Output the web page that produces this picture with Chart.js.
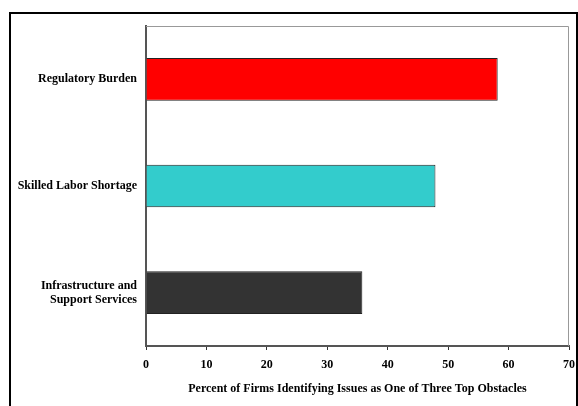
<!DOCTYPE html>
<html>
<head>
<meta charset="utf-8">
<script src="https://cdn.jsdelivr.net/npm/chart.js@4"></script>
<style>
  html,body{margin:0;padding:0;background:#fff;}
  #wrap{position:relative;width:578px;height:406px;overflow:hidden;}
  #frame{position:absolute;left:9px;top:12px;width:565px;height:420px;border:2px solid #000;}
  canvas{position:absolute;left:0;top:0;}
</style>
</head>
<body>
<div id="wrap">
  <div id="frame"></div>
  <canvas id="c" width="578" height="406"></canvas>
</div>
<script>
const categories = ['Regulatory Burden', 'Skilled Labor Shortage', ['Infrastructure and', 'Support Services']];
const values = [58.2, 47.9, 35.8];
const barColors = ['#FF0000', '#33CCCC', '#333333'];
const xTicks = [0, 10, 20, 30, 40, 50, 60, 70];
const xTitle = 'Percent of Firms Identifying Issues as One of Three Top Obstacles';

const font = {family: '"Liberation Serif", "Times New Roman", serif', size: 12, weight: 'bold'};

/* light frame on top/right of the plot area */
const plotFrame = {
  id: 'plotFrame',
  beforeDatasetsDraw(chart){
    const a = chart.chartArea, ctx = chart.ctx;
    ctx.save();
    ctx.strokeStyle = '#999';
    ctx.lineWidth = 1;
    ctx.beginPath();
    ctx.moveTo(a.left, a.top + 0.5);
    ctx.lineTo(a.right - 0.5, a.top + 0.5);
    ctx.lineTo(a.right - 0.5, a.bottom);
    ctx.stroke();
    ctx.restore();
  }
};

new Chart(document.getElementById('c'), {
  type: 'bar',
  data: {
    labels: categories,
    datasets: [{
      data: values,
      backgroundColor: barColors,
      borderColor: '#222',
      borderWidth: 1,
      barPercentage: 0.4,
      categoryPercentage: 1
    }]
  },
  options: {
    responsive: false,
    animation: false,
    indexAxis: 'y',
    layout: {padding: {left: 0, right: 9, top: 26, bottom: 0}},
    plugins: {legend: {display: false}, tooltip: {enabled: false}},
    scales: {
      x: {
        min: 0, max: 70,
        afterBuildTicks(s){ s.ticks = xTicks.map(v => ({value: v})); },
        afterFit(s){ s.height = 60; s.paddingLeft = 0; s.paddingRight = 0; },
        grid: {drawOnChartArea: false, tickLength: 4, color: '#333'},
        border: {color: '#555', width: 2},
        ticks: {color: '#000', font: font, padding: 8, maxRotation: 0},
        title: {display: true, text: xTitle, color: '#000', font: font, padding: {top: 0, bottom: 10}}
      },
      y: {
        afterFit(s){ s.width = 146; },
        grid: {display: false, drawTicks: false},
        border: {color: '#555', width: 2},
        ticks: {color: '#000', font: font, padding: 9}
      }
    }
  },
  plugins: [plotFrame]
});
</script>
</body>
</html>
